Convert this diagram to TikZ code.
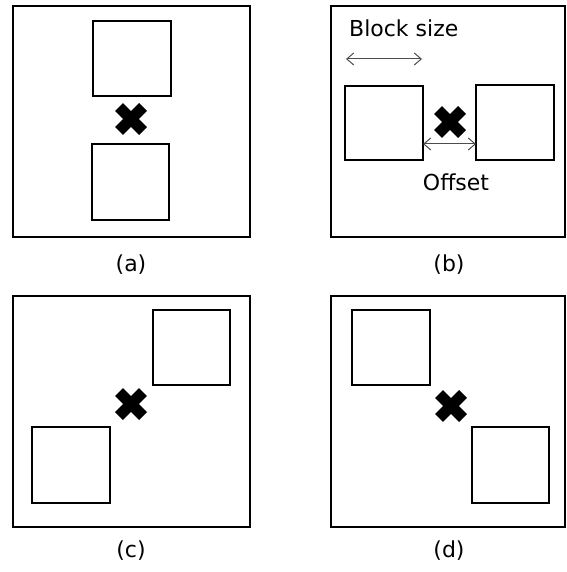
\documentclass[tikz,border=0pt]{standalone}
\usepackage{fontspec}
\setmainfont{DejaVu Sans}
\usetikzlibrary{arrows.meta}
\tikzset{
  panel/.style={draw=black, line width=2.4pt},
  blk/.style={draw=black, line width=2.1pt},
  cross/.style={line width=11pt, line cap=butt},
  dim/.style={draw=black!70, line width=1pt, {Straight Barb[length=7pt,width=12pt]}-{Straight Barb[length=7pt,width=12pt]}},
  lbl/.style={font=\fontsize{22}{25}\selectfont, inner sep=0pt},
}
\newcommand{\mycross}[2]{\draw[cross] (#1-12,#2-12) -- (#1+12,#2+12); \draw[cross] (#1-12,#2+12) -- (#1+12,#2-12);}
\begin{document}
\begin{tikzpicture}[x=1pt,y=-1pt]
\useasboundingbox (0,0) rectangle (566,572);
% (a)
\draw[panel] (13,6) rectangle (250,237);
\node[blk, minimum width=78pt, minimum height=75pt, inner sep=0pt] (a1) at (132,58.5) {};
\node[blk, minimum width=77pt, minimum height=76pt, inner sep=0pt] (a2) at (130.5,182) {};
\mycross{131}{119}
\node[lbl] (la) at (131,265) {(a)};
% (b)
\draw[panel] (331,6) rectangle (565,237);
\node[blk, minimum width=78pt, minimum height=74pt, inner sep=0pt] (b1) at (384,123) {};
\node[blk, minimum width=78pt, minimum height=75pt, inner sep=0pt] (b2) at (515,122.5) {};
\mycross{450}{122}
\coordinate (bs1) at (346,59);
\coordinate (bs2) at (422,59);
\draw[dim] (bs1) -- (bs2);
\node[lbl, anchor=base west] (tb) at (349,36.5) {Block size};
\coordinate (of1) at (423,144);
\coordinate (of2) at (476,144);
\draw[dim] (of1) -- (of2);
\node[lbl] (to) at (456,182) {Offset};
\node[lbl] (lb) at (449,265) {(b)};
% (c)
\draw[panel] (13,296) rectangle (250,527);
\node[blk, minimum width=77pt, minimum height=75pt, inner sep=0pt] (c1) at (191.5,347.5) {};
\node[blk, minimum width=78pt, minimum height=76pt, inner sep=0pt] (c2) at (71,465) {};
\mycross{131}{404}
\node[lbl] (lc) at (131,551) {(c)};
% (d)
\draw[panel] (331,296) rectangle (565,527);
\node[blk, minimum width=78pt, minimum height=75pt, inner sep=0pt] (d1) at (391,347.5) {};
\node[blk, minimum width=77pt, minimum height=76pt, inner sep=0pt] (d2) at (510.5,465) {};
\mycross{451}{406}
\node[lbl] (ld) at (449,551) {(d)};
\end{tikzpicture}
\end{document}
